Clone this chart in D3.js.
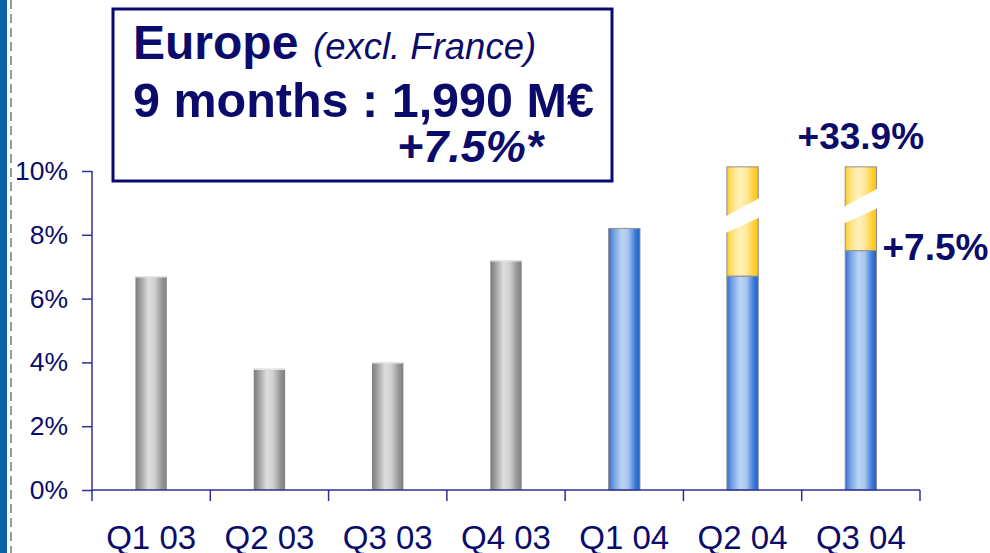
<!DOCTYPE html>
<html lang="en">
<head>
<meta charset="UTF-8">
<title>Europe (excl. France)</title>
<script src="https://cdnjs.cloudflare.com/ajax/libs/d3/7.8.5/d3.min.js"></script>
<style>
    html, body { margin: 0; padding: 0; background: #fff; }
    svg { display: block; font-family: Arial, "Liberation Sans", sans-serif; }
</style>
</head>
<body>
<svg id="chart" width="990" height="553"></svg>
<script>
    // quarterly growth, %
    const quarters = ["Q1 03", "Q2 03", "Q3 03", "Q4 03", "Q1 04", "Q2 04", "Q3 04"];
    const growth = [6.7, 3.8, 4.0, 7.2, 8.2, 6.7, 7.5];
    const year2004 = [false, false, false, false, true, true, true];
    // off-scale totals (yellow part, cut by a break mark)
    const offScale = [false, false, false, false, false, true, true];
    const breakAt = [null, null, null, null, null, 8.6, 8.9];
    const yTicks = [0, 2, 4, 6, 8, 10];
    const annotations = [
        { q: "Q3 04", text: "+33.9%", at: "top" },
        { q: "Q3 04", text: "+7.5%", at: "value", v: 7.5 }
    ];

    const navy = "#0b0b6b";
    const axisColor = "#2e2e96";
    const svg = d3.select("#chart");

    // left slide decoration
    svg.append("rect").attr("x", 0).attr("y", 0).attr("width", 7).attr("height", 553).attr("fill", "#0a62a4");
    svg.append("line").attr("x1", 11).attr("x2", 11).attr("y1", 0).attr("y2", 553)
        .attr("stroke", "#9a9a9a").attr("stroke-width", 2).attr("stroke-dasharray", "9,5");

    const defs = svg.append("defs");
    function grad(id, stops) {
        const g = defs.append("linearGradient").attr("id", id).attr("x1", 0).attr("x2", 1).attr("y1", 0).attr("y2", 0);
        stops.forEach(s => g.append("stop").attr("offset", s[0]).attr("stop-color", s[1]));
    }
    grad("gGray", [["0%", "#7b7b7b"], ["15%", "#9c9c9c"], ["42%", "#dedede"], ["62%", "#cfcfcf"], ["85%", "#959595"], ["100%", "#808080"]]);
    grad("gBlue", [["0%", "#356bcf"], ["15%", "#709de2"], ["42%", "#b9d5f3"], ["62%", "#a8c7ee"], ["85%", "#3f7bd7"], ["100%", "#1a60c8"]]);
    grad("gYellow", [["0%", "#ffc926"], ["15%", "#ffdf78"], ["42%", "#fff2bc"], ["62%", "#ffe89c"], ["85%", "#ffcf3c"], ["100%", "#ffc300"]]);

    const x = d3.scaleBand().domain(quarters).range([92, 920]).padding(0);
    const y = d3.scaleLinear().domain([0, 10]).range([490, 171]);
    const barW = x.bandwidth() * 0.265;
    const cap = 10.13;

    // bars
    const bars = svg.append("g");
    quarters.forEach((q, i) => {
        const bx = x(q) + (x.bandwidth() - barW) / 2;
        if (offScale[i]) {
            bars.append("rect")
                .attr("x", bx).attr("y", y(cap))
                .attr("width", barW).attr("height", y(growth[i]) - y(cap))
                .attr("fill", "url(#gYellow)").attr("stroke", "#8f8f8f").attr("stroke-width", 1);
        }
        bars.append("rect")
            .attr("x", bx).attr("y", y(growth[i]))
            .attr("width", barW).attr("height", y(0) - y(growth[i]))
            .attr("fill", year2004[i] ? "url(#gBlue)" : "url(#gGray)")
            .attr("stroke", year2004[i] ? "#8f8f8f" : "none").attr("stroke-width", 1);
        if (!year2004[i]) {
            bars.append("line").attr("x1", bx).attr("x2", bx + barW)
                .attr("y1", y(growth[i]) + 0.5).attr("y2", y(growth[i]) + 0.5)
                .attr("stroke", "#e4e4e4").attr("stroke-width", 1.5);
        }
        if (breakAt[i] !== null) {
            const yl = y(breakAt[i]);
            const rise = 17, gap = 16.5;
            const pts = [[bx - 3, yl + 1.7], [bx + barW + 3, yl - rise - 1.7],
                         [bx + barW + 3, yl - rise + gap + 1.7], [bx - 3, yl + gap + 1.7]];
            bars.append("polygon").attr("points", pts.map(p => p.join(",")).join(" ")).attr("fill", "#fff");
        }
    });

    // axes
    const yAxis = svg.append("g").attr("transform", "translate(92,0)")
        .call(d3.axisLeft(y).tickValues(yTicks).tickSize(10).tickPadding(14).tickFormat(d => d + "%"));
    yAxis.select(".domain").attr("stroke", axisColor).attr("stroke-width", 1.5).attr("d", "M0," + y(10) + "V" + y(0));
    yAxis.selectAll(".tick line").attr("stroke", axisColor).attr("stroke-width", 1.5);
    yAxis.selectAll(".tick text").attr("fill", navy).attr("font-size", 26.5).attr("font-family", "Arial, 'Liberation Sans', sans-serif");

    const xAxis = svg.append("g").attr("transform", "translate(0," + y(0) + ")");
    xAxis.append("line").attr("x1", 92).attr("x2", 920).attr("stroke", axisColor).attr("stroke-width", 1.5);
    const bounds = quarters.map(q => x(q)).concat([x.range()[1]]);
    xAxis.selectAll("line.sep").data(bounds).enter().append("line")
        .attr("class", "sep").attr("x1", d => d).attr("x2", d => d).attr("y1", 0).attr("y2", 11)
        .attr("stroke", axisColor).attr("stroke-width", 1.5);
    xAxis.selectAll("text").data(quarters).enter().append("text")
        .attr("x", d => x(d) + x.bandwidth() / 2).attr("y", 59)
        .attr("text-anchor", "middle").attr("fill", navy).attr("font-size", 33)
        .text(d => d);

    // value annotations
    annotations.forEach(a => {
        const cx = x(a.q) + x.bandwidth() / 2;
        if (a.at === "top") {
            svg.append("text").attr("x", cx).attr("y", y(cap) - 18)
                .attr("text-anchor", "middle").attr("font-weight", "bold").attr("font-size", 37)
                .attr("fill", navy).text(a.text);
        } else {
            svg.append("text").attr("x", cx + barW / 2 + 6).attr("y", y(a.v) + 9)
                .attr("font-weight", "bold").attr("font-size", 37)
                .attr("fill", navy).text(a.text);
        }
    });

    // title box
    const box = svg.append("g");
    box.append("rect").attr("x", 113).attr("y", 9).attr("width", 499).attr("height", 172)
        .attr("fill", "#fff").attr("stroke", "#0a0a6e").attr("stroke-width", 3);
    box.append("text").attr("x", 133).attr("y", 59).attr("fill", navy)
        .attr("font-weight", "bold").attr("font-size", 48).text("Europe");
    box.append("text").attr("x", 313).attr("y", 59).attr("fill", navy)
        .attr("font-style", "italic").attr("font-size", 36.5).text("(excl. France)");
    box.append("text").attr("x", 133).attr("y", 117).attr("fill", navy)
        .attr("font-weight", "bold").attr("font-size", 48.5).text("9 months : 1,990 M€");
    box.append("text").attr("x", 397).attr("y", 162).attr("fill", navy)
        .attr("font-weight", "bold").attr("font-style", "italic").attr("font-size", 45).text("+7.5%*");
</script>
</body>
</html>
